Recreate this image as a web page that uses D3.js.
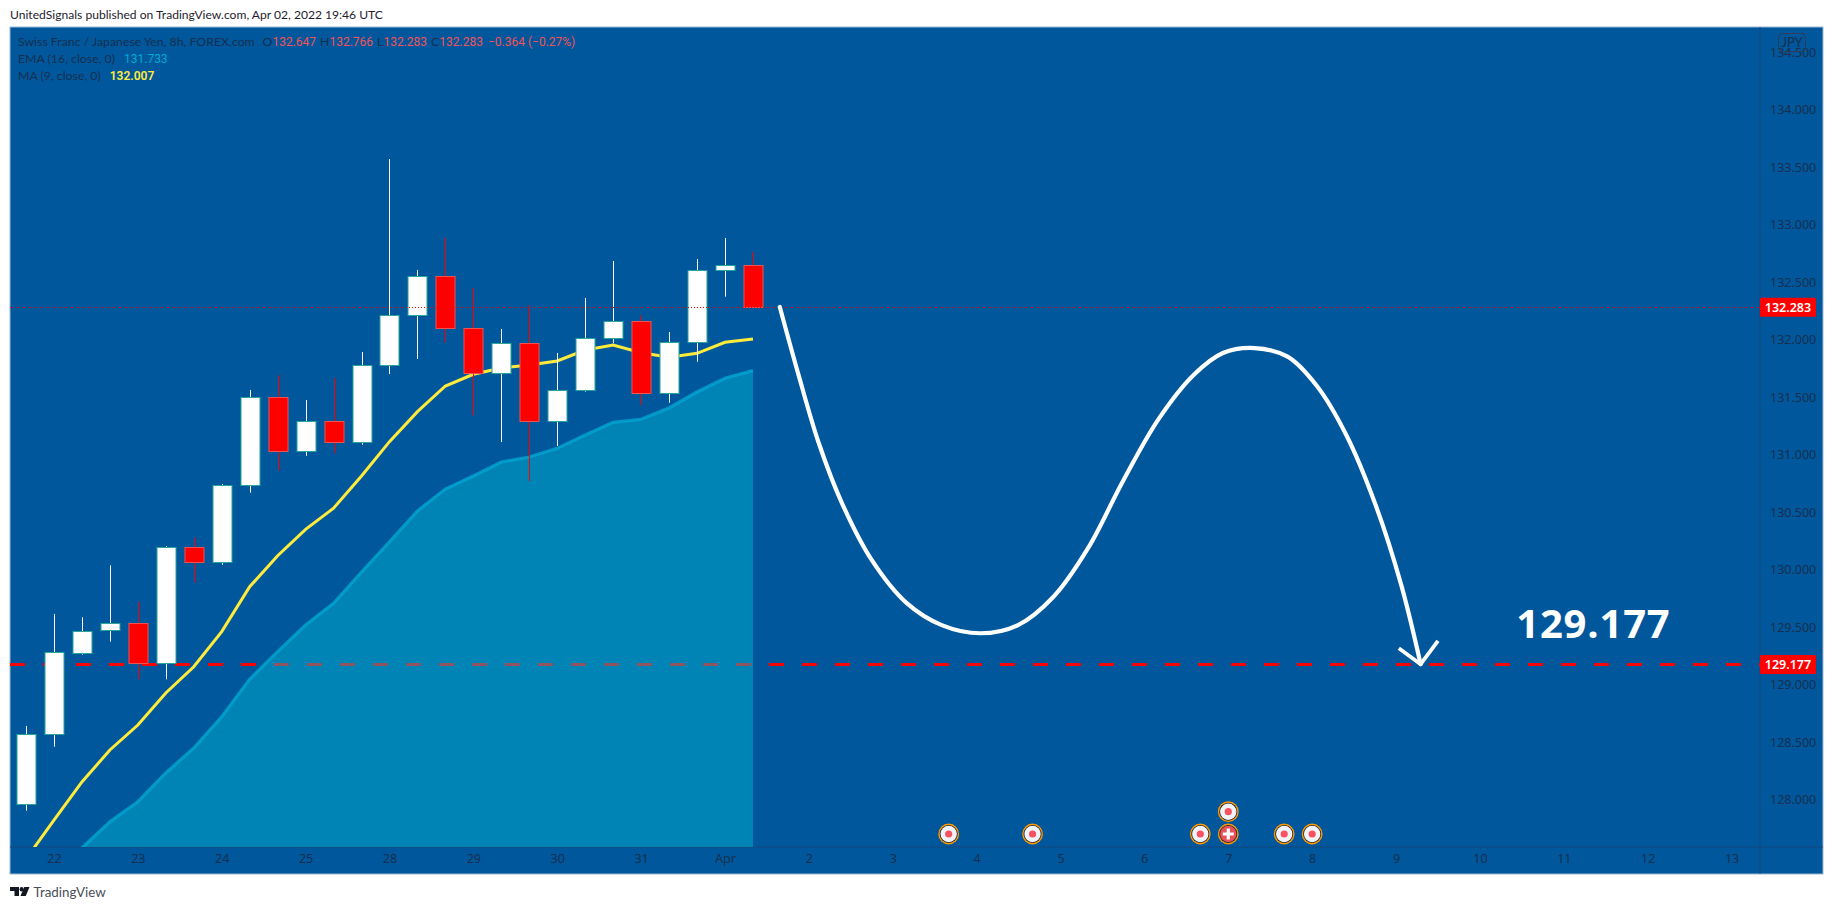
<!DOCTYPE html>
<html>
<head>
<meta charset="utf-8">
<script src="https://cdn.jsdelivr.net/npm/d3@7/dist/d3.min.js"></script>
<style>
html,body{margin:0;padding:0;background:#fff;overflow:hidden}
svg{display:block}
text{font-family:"Lato","Noto Sans",sans-serif}
.num{font-family:"Roboto",sans-serif;font-size:12px}
</style>
</head>
<body>
<svg id="c" width="1834" height="910"></svg>
<script>
// ---- data ----
const opens  = [127.962,128.570,129.283,129.471,129.536,129.188,130.197,130.066,130.736,131.501,131.031,131.292,131.106,131.779,132.214,132.553,132.101,131.710,131.970,131.292,131.562,132.014,132.162,131.536,131.979,132.605,132.647];
const closes = [128.570,129.283,129.471,129.536,129.188,130.197,130.066,130.736,131.501,131.031,131.292,131.106,131.779,132.214,132.553,132.101,131.710,131.970,131.292,131.562,132.014,132.162,131.536,131.979,132.605,132.649,132.283];
const highs  = [128.643,129.617,129.588,130.040,129.723,130.208,130.283,130.747,131.564,131.692,131.477,131.669,131.895,133.573,132.608,132.889,132.451,132.095,132.301,131.886,132.364,132.686,132.214,132.069,132.703,132.886,132.766];
const lows   = [127.906,128.463,129.263,129.376,129.049,129.049,129.889,130.045,130.671,130.863,130.993,131.014,131.089,131.703,131.834,131.976,131.344,131.112,130.773,131.077,131.550,131.970,131.434,131.454,131.810,132.376,132.283];
const ma9    = [127.486,127.825,128.156,128.434,128.651,128.930,129.158,129.463,129.854,130.123,130.353,130.536,130.817,131.115,131.376,131.599,131.701,131.756,131.782,131.817,131.912,131.956,131.889,131.849,131.883,131.979,132.007];
const ema16  = [127.110,127.350,127.582,127.810,127.984,128.234,128.451,128.723,129.049,129.289,129.521,129.710,129.982,130.243,130.512,130.703,130.817,130.938,130.982,131.057,131.173,131.283,131.310,131.408,131.547,131.666,131.733];
const priceTicks = [128,128.5,129,129.5,130,130.5,131,131.5,132,132.5,133,133.5,134,134.5];
const dayLabels = ["22","23","24","25","28","29","30","31","Apr","2","3","4","5","6","7","8","9","10","11","12","13"];
const dayBars   = [1,4,7,10,13,16,19,22,25,28,31,34,37,40,43,46,49,52,55,58,61];
const lastPrice = 132.283;
const targetPrice = 129.177;
// forecast path as [bar position, price]
const forecastBars   = [26.96,27.63,28.35,29.19,30.24,31.49,32.75,34.14,35.48,36.74,37.99,39.25,40.5,41.76,42.81,43.94,45.12,46.17,47.22,48.27,49.19,49.88];
const forecastPrices = [132.286,131.696,131.106,130.577,130.089,129.713,129.520,129.449,129.520,129.764,130.191,130.780,131.309,131.695,131.886,131.929,131.854,131.599,131.173,130.564,129.865,129.180];
const arrowBars   = [49.1,49.88,50.5];
const arrowPrices = [129.318,129.18,129.382];
const eventBars  = [33,36,42,43,45,46,43];
const eventTypes = ["dot","dot","dot","plus","dot","dot","dot"];
const eventRows  = [0,0,0,0,0,0,1];

// ---- layout ----
const L=10,T=27,R=1760,B=847,FR=1823,FB=874;
const svg=d3.select("#c");
const x=d3.scaleLinear().domain([0,60]).range([26,26+27.96*60]);
const y=d3.scaleLinear().domain([130,134]).range([569.9,109.9]);
const DARK="#152f50", BG="#01579b";

svg.append("rect").attr("x",L).attr("y",T).attr("width",FR-L).attr("height",FB-T).attr("fill",BG).attr("stroke","#9db8d3").attr("stroke-width",1);
svg.append("defs").append("clipPath").attr("id","plot").append("rect").attr("x",L).attr("y",T).attr("width",R-L).attr("height",B-T);

// separators
svg.append("line").attr("x1",R).attr("x2",R).attr("y1",T).attr("y2",FB).attr("stroke","#14497f");
svg.append("line").attr("x1",L).attr("x2",FR).attr("y1",B).attr("y2",B).attr("stroke","#14497f");

const g=svg.append("g").attr("clip-path","url(#plot)");

// target dashed line under the area
g.append("line").attr("x1",L).attr("x2",R).attr("y1",y(targetPrice)).attr("y2",y(targetPrice))
 .attr("stroke","#ff0000").attr("stroke-width",3).attr("stroke-dasharray","15 18");

// EMA area and line
const idx=d3.range(opens.length);
g.append("path").datum(idx).attr("fill","#00bcd4").attr("fill-opacity",.45)
 .attr("d",d3.area().x(i=>x(i)).y0(B).y1(i=>y(ema16[i])));
g.append("path").datum(idx).attr("fill","none").attr("stroke","#00a6d2").attr("stroke-opacity",.8).attr("stroke-width",3.2)
 .attr("d",d3.line().x(i=>x(i)).y(i=>y(ema16[i])));
// MA
g.append("path").datum(idx).attr("fill","none").attr("stroke","#ffeb3b").attr("stroke-width",3)
 .attr("d",d3.line().x(i=>x(i)).y(i=>y(ma9[i])));

// candles
const cg=g.append("g").selectAll("g").data(idx).join("g");
cg.append("line").attr("x1",i=>Math.round(x(i))+.5).attr("x2",i=>Math.round(x(i))+.5)
  .attr("y1",i=>y(highs[i])).attr("y2",i=>y(lows[i]))
  .attr("stroke",i=>closes[i]>=opens[i]?"#ffffff":"#ff0000");
cg.append("rect").attr("x",i=>Math.round(x(i))-9).attr("width",19)
  .attr("y",i=>Math.round(y(Math.max(opens[i],closes[i])))+.5)
  .attr("height",i=>Math.max(1,Math.round(Math.abs(y(opens[i])-y(closes[i])))))
  .attr("fill",i=>closes[i]>=opens[i]?"#ffffff":"#ff0000")
  .attr("stroke",i=>closes[i]>=opens[i]?"#26a69a":"#ef5350");

// last price dotted line
g.append("line").attr("x1",L).attr("x2",R).attr("y1",Math.round(y(lastPrice))+.5).attr("y2",Math.round(y(lastPrice))+.5)
 .attr("stroke","#ff0000").attr("stroke-dasharray","1 2");

// forecast curve + arrow
const pts=forecastBars.map((b,i)=>[x(b),y(forecastPrices[i])]);
g.append("path").attr("d",d3.line().curve(d3.curveCatmullRom.alpha(.5))(pts))
 .attr("fill","none").attr("stroke","#fff").attr("stroke-width",4.2).attr("stroke-linecap","round");
g.append("path").attr("d",d3.line()(arrowBars.map((b,i)=>[x(b),y(arrowPrices[i])])))
 .attr("fill","none").attr("stroke","#fff").attr("stroke-width",3.8).attr("stroke-linejoin","round");
g.append("text").attr("x",x(53.3)).attr("y",y(129.41)).attr("fill","#fff")
 .attr("font-size",40).attr("font-weight",700).attr("letter-spacing",.8).style("font-family","'Open Sans',sans-serif").text(targetPrice.toFixed(3));

// event markers
const ev=g.append("g").selectAll("g").data(eventBars).join("g")
 .attr("transform",(b,i)=>`translate(${x(b)},${834-eventRows[i]*22.3})`);
ev.append("circle").attr("r",10.4).attr("fill","#ff9800");
ev.append("circle").attr("r",9).attr("fill","#14203a");
ev.append("circle").attr("r",8.2).attr("fill",(b,i)=>eventTypes[i]==="plus"?"#e8505b":"#f0f3fa");
ev.filter((b,i)=>eventTypes[i]==="dot").append("circle").attr("r",3.6).attr("fill","#f7525f");
ev.filter((b,i)=>eventTypes[i]==="plus").append("path").attr("d","M-5.5 0H5.5M0 -5.5V5.5").attr("stroke","#fff").attr("stroke-width",3.2);

// axes
const ya=d3.axisRight(y).tickValues(priceTicks).tickFormat(d3.format(".3f")).tickSize(0).tickPadding(10);
const yg=svg.append("g").attr("transform",`translate(${R},0)`).call(ya);
const xa=d3.axisBottom(x).tickValues(dayBars).tickFormat((d,i)=>dayLabels[i]).tickSize(0).tickPadding(7);
const xg=svg.append("g").attr("transform",`translate(0,${B})`).call(xa);
[yg,xg].forEach(a=>{a.select(".domain").remove();a.selectAll("text").attr("fill",DARK).attr("font-size",12.5).style("font-family","'Noto Sans',sans-serif");});

// JPY badge
svg.append("rect").attr("x",1778.5).attr("y",33.5).attr("width",27).attr("height",18).attr("rx",4).attr("fill","none").attr("stroke","#2a3c58");
svg.append("text").attr("x",1792).attr("y",47).attr("text-anchor","middle").attr("font-size",13).attr("fill",DARK).text("JPY");

// price tags
[lastPrice,targetPrice].forEach(p=>{
  svg.append("rect").attr("x",R).attr("y",y(p)-9.5).attr("width",56).attr("height",19).attr("rx",1.5).attr("fill","#ff0000");
  svg.append("text").attr("x",R+28).attr("y",y(p)+4.5).attr("text-anchor","middle").attr("font-size",12.5).attr("font-weight",600).style("font-family","'Noto Sans',sans-serif").attr("fill","#fff").text(p.toFixed(3));
});

// legend
const RED="#f0525a";
const l1=svg.append("text").attr("x",18).attr("y",46).attr("font-size",12.3).attr("fill",DARK);
l1.append("tspan").text("Swiss Franc / Japanese Yen, 8h, FOREX.com");
[["O","132.647"],["H","132.766"],["L","132.283"],["C","132.283"]].forEach((p,i)=>{
  l1.append("tspan").attr("dx",i?4:8).text(p[0]);
  l1.append("tspan").attr("class","num").attr("fill",RED).text(p[1]);
});
l1.append("tspan").attr("dx",5).attr("class","num").attr("fill",RED).text("−0.364 (−0.27%)");
const l2=svg.append("text").attr("x",18).attr("y",63).attr("font-size",12.3).attr("fill",DARK);
l2.append("tspan").text("EMA (16, close, 0)");
l2.append("tspan").attr("dx",9).attr("class","num").attr("fill","#00a9d0").text("131.733");
const l3=svg.append("text").attr("x",18).attr("y",80).attr("font-size",12.3).attr("fill",DARK);
l3.append("tspan").text("MA (9, close, 0)");
l3.append("tspan").attr("dx",9).attr("class","num").attr("font-weight",600).attr("fill","#ffeb3b").text("132.007");

// header + footer
svg.append("text").attr("x",10).attr("y",19).attr("font-size",12.1).attr("fill","#1e222d").text("UnitedSignals published on TradingView.com, Apr 02, 2022 19:46 UTC");
const logo=svg.append("g").attr("transform","translate(10,887) scale(.75,.82)").attr("fill","#131722");
logo.append("path").attr("d","M0 0H12V11H6V5H0Z");
logo.append("circle").attr("cx",15.5).attr("cy",2.7).attr("r",2.7);
logo.append("path").attr("d","M14 11L19 0H26L21 11Z");
svg.append("text").attr("x",33.5).attr("y",897).attr("font-size",13.4).attr("fill","#4a4e59").text("TradingView");
</script>
</body>
</html>
